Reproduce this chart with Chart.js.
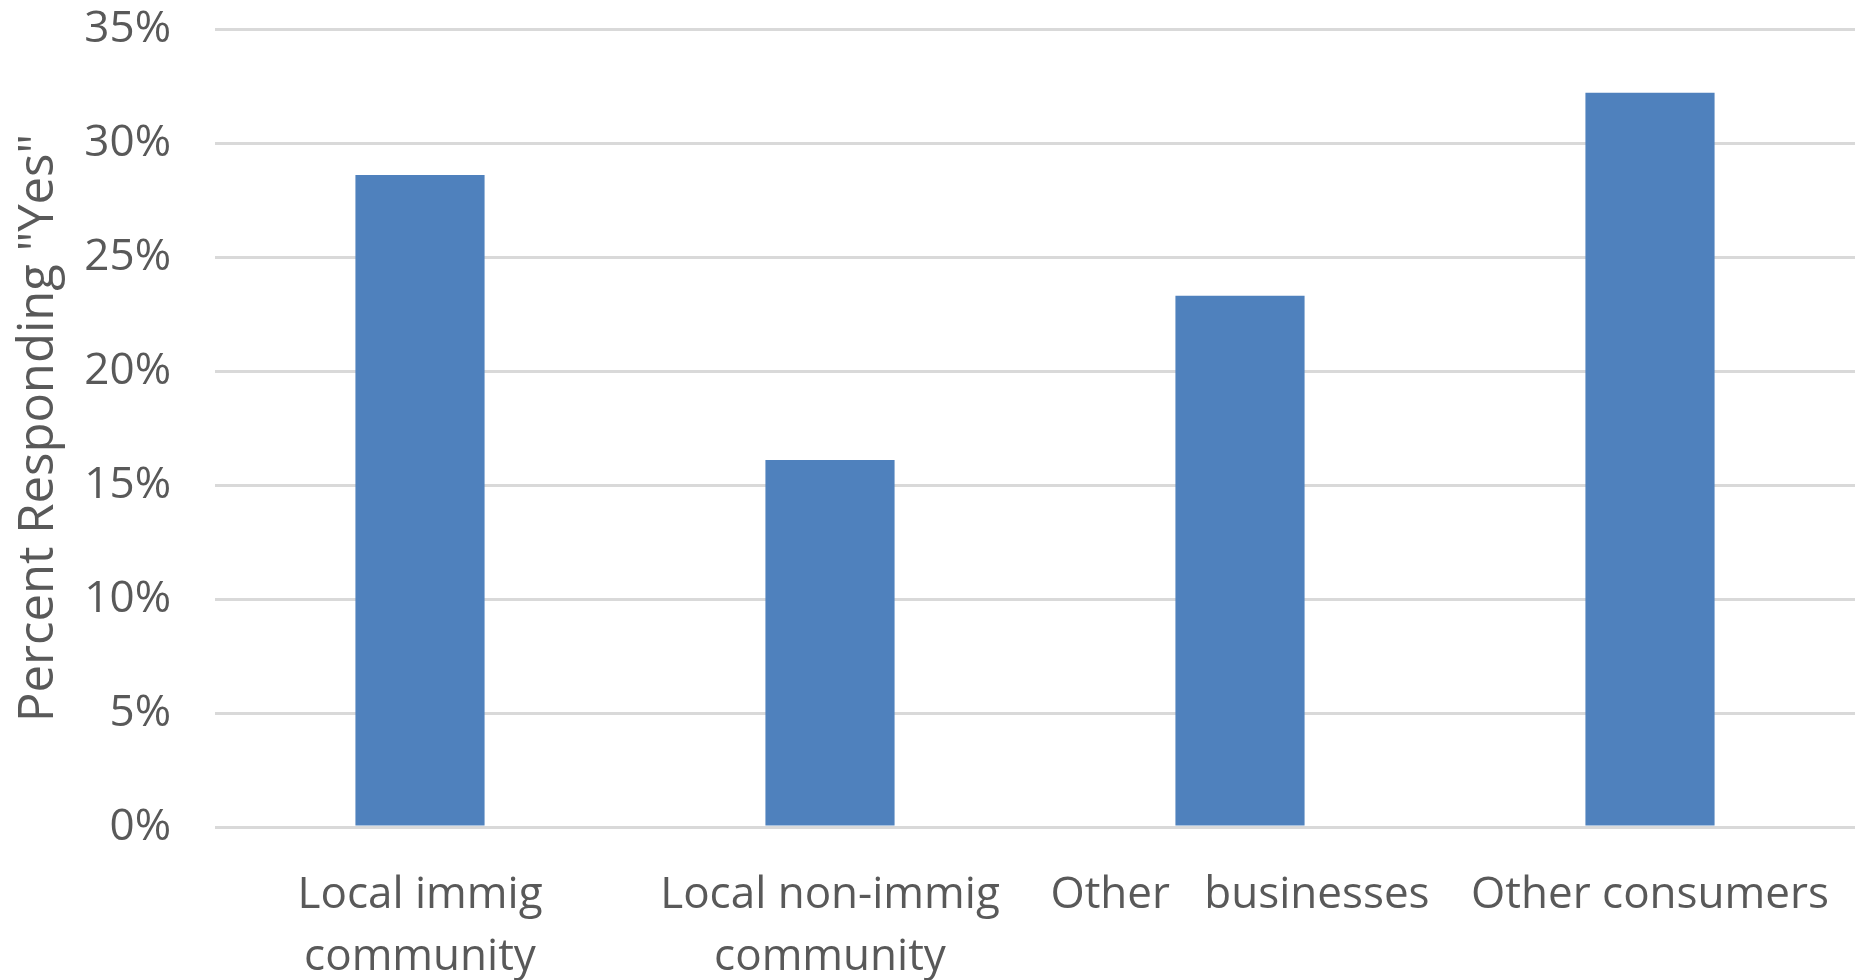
<!DOCTYPE html>
<html>
<head>
<meta charset="utf-8">
<script src="https://cdn.jsdelivr.net/npm/chart.js@4/dist/chart.umd.min.js"></script>
<style>
  html, body { margin: 0; padding: 0; background: #fff; }
  #wrap { width: 1862px; height: 980px; position: relative; }
</style>
</head>
<body>
<div id="wrap"><canvas id="chart"></canvas></div>
<script>
// categorias y valores (porcentaje que responde "Yes")
var categorias = [
    ['Local immig', 'community'],
    ['Local non-immig', 'community'],
    'Other   businesses',
    'Other consumers'
];
var valores = [28.6, 16.1, 23.3, 32.2];
var yMax = 35;
var yPaso = 5;

var gris = '#595959';
var fuente = 'Open Sans';

var ctx = document.getElementById('chart');
window.chartYes = new Chart(ctx, {
    type: 'bar',
    data: {
        labels: categorias,
        datasets: [{
            data: valores,
            backgroundColor: '#4f81bd',
            borderWidth: 0,
            categoryPercentage: 1,
            barPercentage: 0.315
        }]
    },
    options: {
        responsive: true, maintainAspectRatio: false,
        animation: false,
        layout: { padding: { top: 0, right: 7, left: 0, bottom: 0 } },
        plugins: {
            legend: { display: false },
            tooltip: { enabled: false }
        },
        scales: {
            y: {
                min: 0, max: yMax,
                ticks: {
                    stepSize: yPaso,
                    color: gris,
                    padding: 44,
                    font: { family: fuente, size: 44, lineHeight: 1 },
                    callback: function(v) { return v + '%'; }
                },
                grid: { color: '#d9d9d9', lineWidth: 3, drawTicks: false },
                border: { display: false },
                title: {
                    display: true,
                    text: 'Percent Responding "Yes"',
                    color: gris,
                    font: { family: fuente, size: 49, lineHeight: 1.2 },
                    padding: { top: 10, bottom: 0 }
                },
                afterFit: function(s) { s.width = 215; s.paddingTop = 29; s.paddingBottom = 0; }
            },
            x: {
                ticks: {
                    color: gris,
                    padding: 30,
                    maxRotation: 0,
                    autoSkip: false,
                    font: { family: fuente, size: 44, lineHeight: 1.4 }
                },
                grid: { display: false },
                border: { display: false },
                afterFit: function(s) { s.height = 153; s.paddingTop = 0; }
            }
        }
    }
});
</script>
</body>
</html>
